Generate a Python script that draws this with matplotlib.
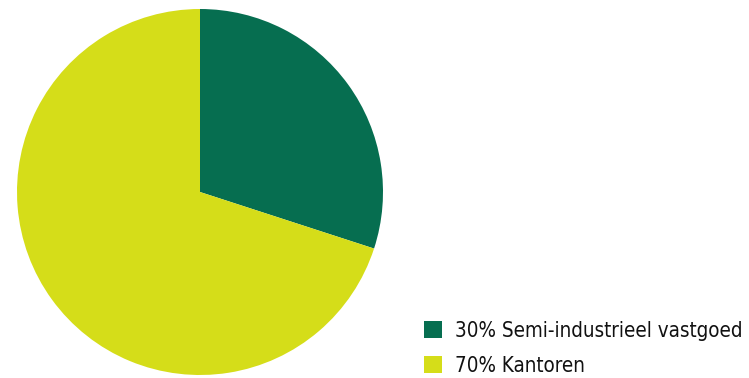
import matplotlib.pyplot as plt

# Verdeling vastgoedportefeuille
labels = ["30% Semi-industrieel vastgoed", "70% Kantoren"]
shares = [30, 70]
colors = ["#066e50", "#d5dd19"]

W, H = 749, 378
fig = plt.figure(figsize=(W / 100, H / 100), dpi=100)

# taartdiagram links, vierkante assen
ax = fig.add_axes([17 / W, 3 / H, 366 / W, 366 / H])
wedges, _ = ax.pie(shares, colors=colors, startangle=90, counterclock=False,
                   radius=1, wedgeprops={"linewidth": 0})
ax.set_xlim(-1, 1)
ax.set_ylim(-1, 1)
ax.set_aspect("equal")
ax.axis("off")

# legenda rechtsonder
leg = fig.legend(wedges, labels, loc="lower left",
                 bbox_to_anchor=(412 / W, -10 / H),
                 frameon=False,
                 prop={"family": "DejaVu Sans", "stretch": "condensed", "size": 14.8},
                 handlelength=0.88, handleheight=0.88, handletextpad=0.6,
                 labelspacing=0.72, borderaxespad=0.2)
for t in leg.get_texts():
    t.set_color("#111111")

fig.savefig("out.png", dpi=100)
